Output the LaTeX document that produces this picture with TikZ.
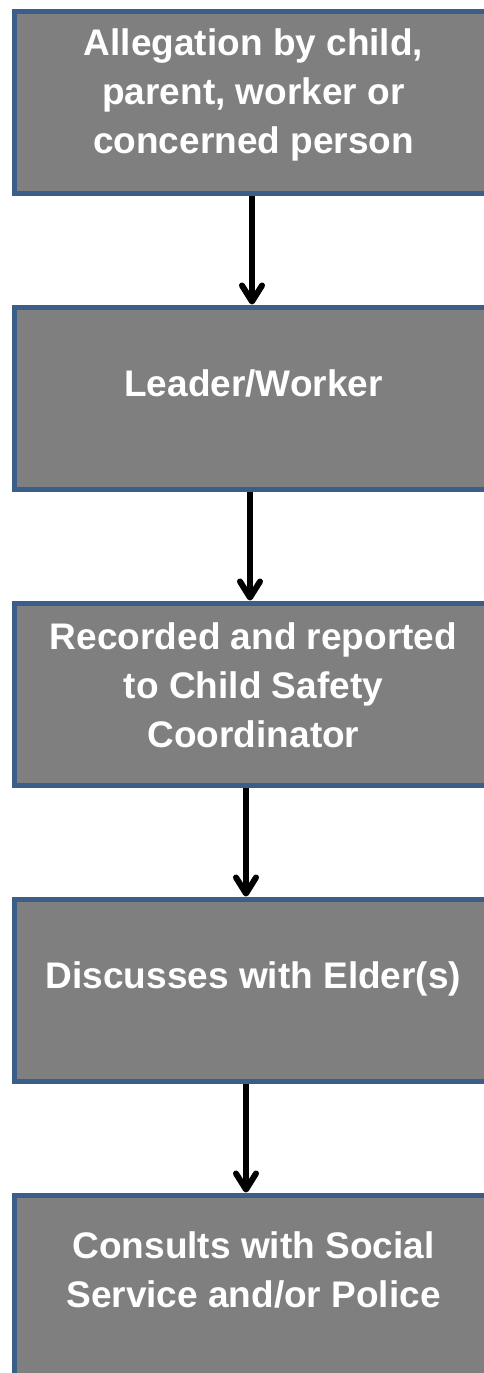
\documentclass[tikz,border=0pt]{standalone}
\usepackage{fontspec}
\setmainfont{Liberation Sans}
\usetikzlibrary{arrows.meta, positioning}

\definecolor{stagefill}{HTML}{7F7F7F}
\definecolor{stageedge}{HTML}{3B5D8A}

\begin{document}
\begin{tikzpicture}[
    x=1pt, y=-1pt,
    node distance=109pt,
    stage/.style = {rectangle, draw=stageedge, fill=stagefill, line width=5pt, minimum width=478pt, minimum height=182pt, inner sep=0pt},
    caption/.style = {align=center, text=white, font=\fontsize{37}{49}\selectfont\bfseries, inner sep=0pt},
    flow/.style = {draw, line width=6pt, black, -{Straight Barb[length=16pt, width=20pt, round]}}
]
    \useasboundingbox (0,0) rectangle (484,1373);
    \clip (0,0) rectangle (484,1373);
    \node [stage] (allegation) at (253.5,102) {};
    \node [stage, below=of allegation] (leader) {};
    \node [stage, below=of leader] (recorded) {};
    \node [stage, below=of recorded] (elders) {};
    \node [stage, below=of elders] (consults) {};
    \node [caption] (allegationtext) at ([yshift=7pt]allegation.center) {Allegation by child,\\parent, worker or\\concerned person};
    \node [caption] (leadertext) at ([yshift=14.5pt]leader.center) {Leader/Worker};
    \node [caption] (recordedtext) at ([yshift=8.5pt]recorded.center) {Recorded and reported\\to Child Safety\\Coordinator};
    \node [caption] (elderstext) at ([yshift=11.5pt]elders.center) {Discusses with Elder(s)};
    \node [caption] (consultstext) at ([yshift=16.5pt]consults.center) {Consults with Social\\Service and/or Police};
    \draw [flow] ([xshift=-1.5pt]allegation.south) -- ([xshift=-1.5pt]leader.north);
    \draw [flow] ([xshift=-3.5pt]leader.south) -- ([xshift=-3.5pt]recorded.north);
    \draw [flow] ([xshift=-7.5pt]recorded.south) -- ([xshift=-7.5pt]elders.north);
    \draw [flow] ([xshift=-7.5pt]elders.south) -- ([xshift=-7.5pt]consults.north);
\end{tikzpicture}
\end{document}
